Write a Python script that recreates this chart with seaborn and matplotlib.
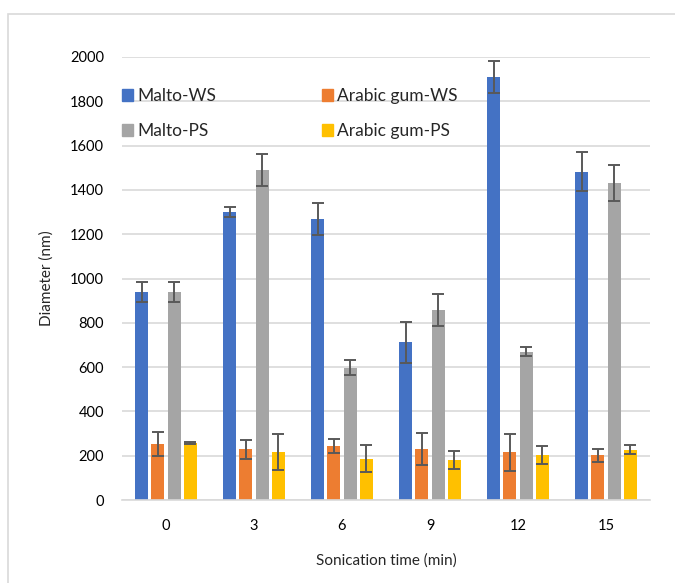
import pandas as pd
import matplotlib.pyplot as plt
import matplotlib.patches as mpatches
import seaborn as sns

# Values
times = ["0", "3", "6", "9", "12", "15"]
series = ["Malto-WS", "Arabic gum-WS", "Malto-PS", "Arabic gum-PS"]
malto_ws = [940, 1300, 1267, 712, 1911, 1482]
malto_ws_err = [45, 23, 72, 92, 72, 88]
arabic_ws = [252, 228, 245, 230, 215, 202]
arabic_ws_err = [53, 43, 32, 73, 83, 30]
malto_ps = [940, 1490, 597, 858, 670, 1430]
malto_ps_err = [45, 72, 33, 74, 22, 81]
arabic_ps = [257, 217, 187, 180, 203, 227]
arabic_ps_err = [3, 82, 62, 42, 42, 20]

colors = ["#4472C4", "#ED7D31", "#A5A5A5", "#FFC000"]

values = [malto_ws, arabic_ws, malto_ps, arabic_ps]
errors = [malto_ws_err, arabic_ws_err, malto_ps_err, arabic_ps_err]

rows = []
for name, vals in zip(series, values):
    for t, v in zip(times, vals):
        rows.append({"time": t, "sample": name, "diameter": v})
df = pd.DataFrame(rows)

sns.set_style("white")
plt.rcParams["font.family"] = ["Lato", "DejaVu Sans"]

fig = plt.figure(figsize=(6.75, 5.83), dpi=100)
ax = fig.add_axes([122 / 675, 1 - 500 / 583, (650 - 122) / 675, (500 - 57) / 583])

sns.barplot(data=df, x="time", y="diameter", hue="sample", order=times,
            hue_order=series, palette=colors, errorbar=None, width=0.73,
            gap=0.19, linewidth=0, saturation=1, ax=ax)

# error bars at bar centres
for container, err in zip(ax.containers, errors):
    xs = [p.get_x() + p.get_width() / 2 for p in container]
    hs = [p.get_height() for p in container]
    ax.errorbar(xs, hs, yerr=err, fmt="none", ecolor="#595959",
                elinewidth=1.4, capsize=4.5, capthick=1.4, zorder=3)

ax.set_xlim(-0.5, len(times) - 0.5)
ax.set_ylim(0, 2000)
ax.set_yticks(range(0, 2001, 200))
ax.grid(axis="y", color="#D9D9D9", linewidth=1.2)
ax.set_axisbelow(True)
for s in ["top", "right", "left"]:
    ax.spines[s].set_visible(False)
ax.spines["bottom"].set_color("#D9D9D9")
ax.spines["bottom"].set_linewidth(1.2)
ax.tick_params(axis="both", length=0, labelsize=10.5, colors="#000000")
ax.tick_params(axis="y", pad=13)
ax.tick_params(axis="x", pad=14)

ax.set_xlabel("Sonication time (min)", fontsize=11, labelpad=14)
ax.set_ylabel("Diameter (nm)", fontsize=11, labelpad=12)

handles = [mpatches.Patch(color=c) for c in colors]
order = [0, 2, 1, 3]
ax.legend([handles[i] for i in order], [series[i] for i in order], ncol=2,
          frameon=False, fontsize=12.5, loc="upper left",
          bbox_to_anchor=(0.0, 0.93), borderaxespad=0, borderpad=0,
          handlelength=0.63, handleheight=0.63,
          handletextpad=0.25, columnspacing=6.1, labelspacing=1.1)

# light frame of the chart area
fig.patches.append(mpatches.Rectangle((8 / 675, -0.1), 1.2, 1.1 - 14 / 583,
                                      transform=fig.transFigure, fill=False,
                                      edgecolor="#D9D9D9", linewidth=1.2))

fig.savefig("out.png", dpi=100)
